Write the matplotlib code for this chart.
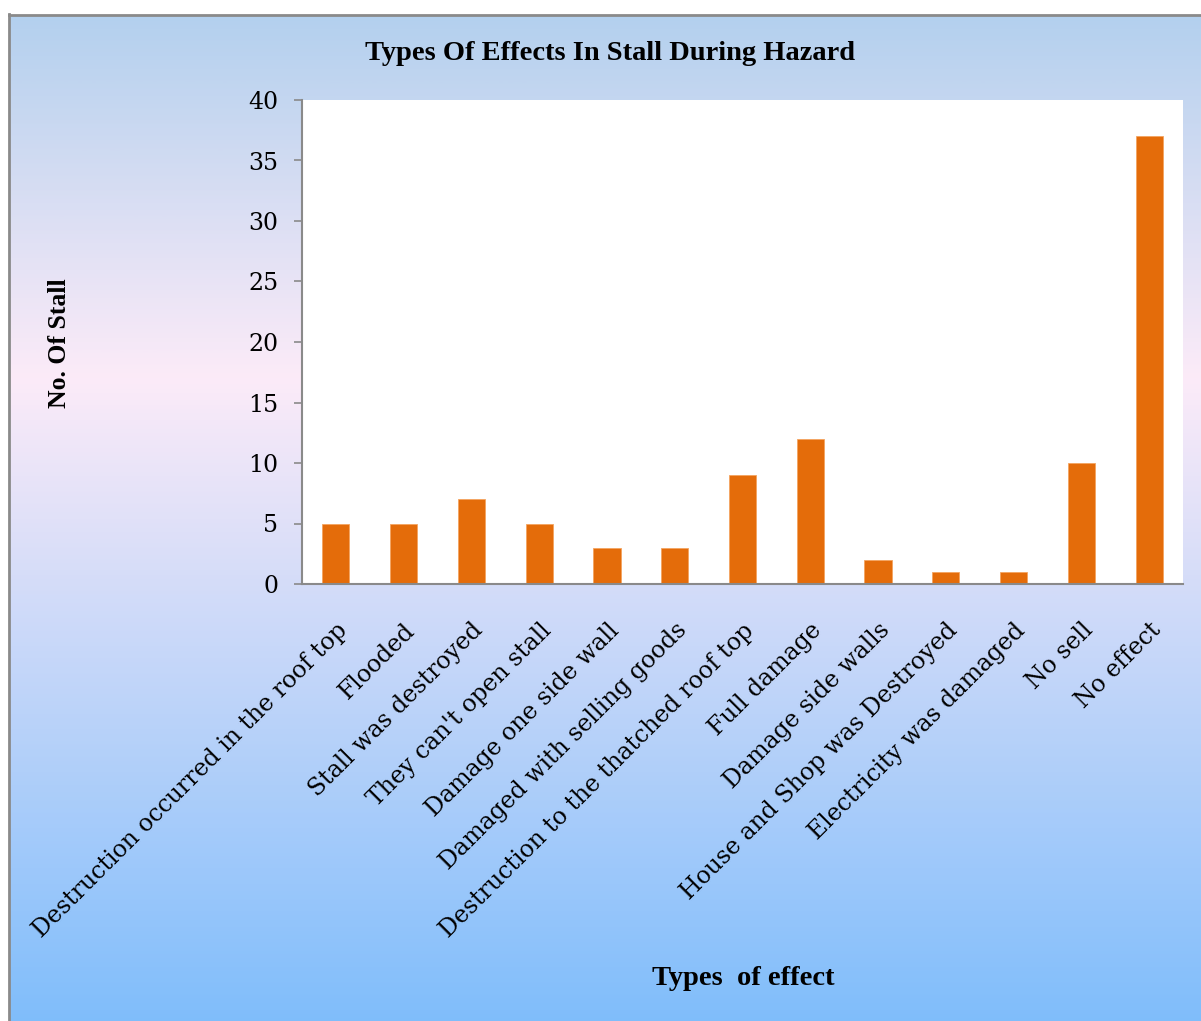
import matplotlib
matplotlib.use('Agg')
import matplotlib.pyplot as plt
import numpy as np
from matplotlib.colors import LinearSegmentedColormap
from matplotlib.patches import Rectangle

# data
categories = ['Destruction occurred in the roof top', 'Flooded', 'Stall was destroyed',
              "They can't open stall", 'Damage one side wall', 'Damaged with selling goods',
              'Destruction to the thatched roof top', 'Full damage', 'Damage side walls',
              'House and Shop was Destroyed', 'Electricity was damaged', 'No sell', 'No effect']
counts = [5, 5, 7, 5, 3, 3, 9, 12, 2, 1, 1, 10, 37]
y_ticks = [0, 5, 10, 15, 20, 25, 30, 35, 40]

plt.rcParams['font.family'] = ['Liberation Serif', 'DejaVu Serif']

W, H = 1201, 1021
fig = plt.figure(figsize=(W / 100, H / 100), dpi=100)

# gradient background across the whole figure
bg = fig.add_axes([0, 0, 1, 1], zorder=-10)
bg.set_xlim(0, W)
bg.set_ylim(H, 0)
bg.axis('off')
cmap = LinearSegmentedColormap.from_list('bg', [
    (0.0, '#b3d0ee'), (0.36, '#fcebf8'), (1.0, '#7fbdfb')])
grad = np.linspace(0, 1, 512).reshape(-1, 1)
bg.imshow(grad, cmap=cmap, aspect='auto', extent=[8, W + 5, H + 5, 14])
bg.add_patch(Rectangle((0, 0), W, 14, color='white', zorder=2))
bg.add_patch(Rectangle((0, 0), 8, H, color='white', zorder=2))
bg.plot([9, 9], [14, H], color='#8a8a8a', lw=2, zorder=3)
bg.plot([9, W], [15, 15], color='#8a8a8a', lw=2, zorder=3)

# main plot area
ax = fig.add_axes([302 / W, 1 - 584 / H, (1183 - 302) / W, (584 - 100) / H])
ax.set_facecolor('white')
x = np.arange(len(categories))
ax.bar(x, counts, width=0.4, color='#e46c0a', edgecolor='#f4a460', linewidth=0.6, zorder=2)

ax.set_xlim(-0.5, len(categories) - 0.5)
ax.set_ylim(0, 40)
ax.set_yticks(y_ticks)
ax.set_yticklabels([str(t) for t in y_ticks], fontsize=17, family='DejaVu Serif')
ax.set_xticks(x)
ax.set_xticklabels(categories, rotation=45, ha='right', rotation_mode='anchor',
                   fontsize=17, family='DejaVu Serif')
ax.tick_params(axis='x', length=0, pad=25)
ax.tick_params(axis='y', length=6, width=1.2, color='#8a8a8a', pad=11)

for s in ['top', 'right']:
    ax.spines[s].set_visible(False)
for s in ['left', 'bottom']:
    ax.spines[s].set_color('#8a8a8a')
    ax.spines[s].set_linewidth(1.5)

fig.text(610 / W, 1 - 53 / H, 'Types Of Effects In Stall During Hazard', ha='center', va='center',
         fontsize=20.5, fontweight='bold')
fig.text(60 / W, 1 - 343 / H, 'No. Of Stall', ha='center', va='center', rotation=90,
         fontsize=18.5, fontweight='bold')
fig.text(743 / W, 1 - 978 / H, 'Types  of effect', ha='center', va='center',
         fontsize=20.5, fontweight='bold')

fig.savefig('out.png', dpi=100)
